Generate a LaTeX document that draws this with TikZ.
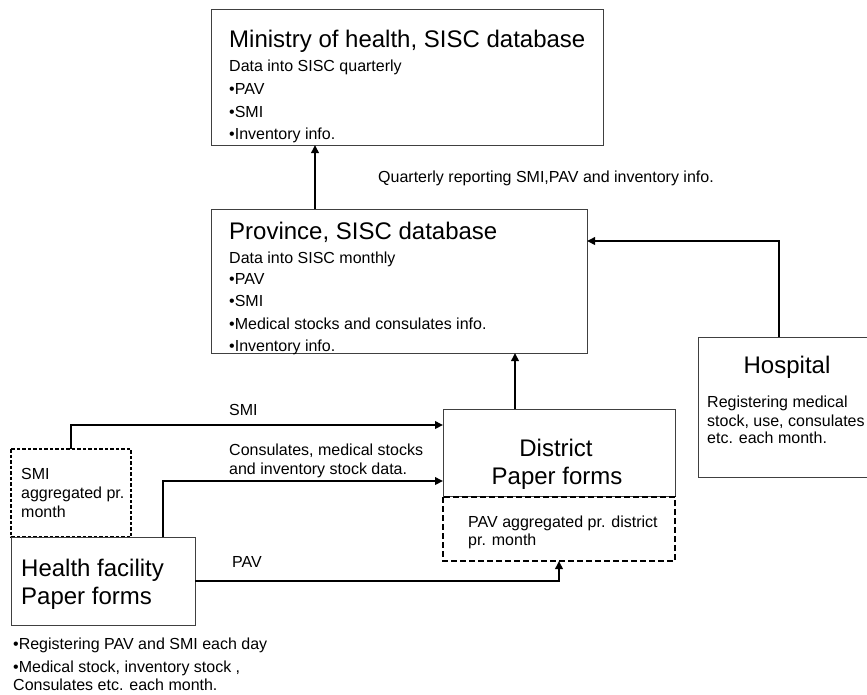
\documentclass[tikz,border=0pt]{standalone}
\usepackage{fontspec}
\setmainfont{Liberation Sans}
\usetikzlibrary{arrows.meta}
\begin{document}
\begin{tikzpicture}[x=1pt,y=-1pt,
  box/.style={draw=black!75,line width=1pt},
  dbox/.style={draw=black,line width=1.5pt,dash pattern=on 6pt off 3pt},
  dboxfine/.style={draw=black,line width=1.4pt,dash pattern=on 3.5pt off 2pt},
  flow/.style={line width=1.9pt,-{Triangle[length=8pt,width=7.5pt]}},
  big/.style={font=\fontsize{24}{28}\selectfont,inner sep=0pt},
  small/.style={font=\fontsize{16}{19}\selectfont,inner sep=0pt},
  lt/.style={anchor=base west},
  ct/.style={anchor=base}]
\useasboundingbox (0,0) rectangle (867,694);
\clip (0,0) rectangle (867,694);

% ---- boxes ----
\draw[box] (211,9) rectangle (603,145);
\coordinate (minB) at (315,145);
\draw[box] (211,209) rectangle (587,353);
\coordinate (proT) at (315,209);
\coordinate (proB) at (515,353);
\coordinate (proR) at (587,241);
\draw[box] (698,337) rectangle (880,477);
\coordinate (hosT) at (779,337);
\draw[box] (443,409) rectangle (675,496);
\coordinate (disT) at (515,409);
\coordinate (disL1) at (443,425);
\coordinate (disL2) at (443,481);
\draw[dbox] (443,497) rectangle (675,561);
\coordinate (pavB) at (559,561);
\draw[dboxfine] (11,449) rectangle (131,537);
\coordinate (smiT) at (71,449);
\draw[box] (11,537) rectangle (195,625);
\coordinate (hfT) at (163,537);
\coordinate (hfR) at (195,581);

% ---- connectors ----
\draw[flow] (proT) -- (minB);
\draw[flow] (hosT) |- (proR);
\draw[flow] (disT) -- (proB);
\draw[flow] (smiT) |- (disL1);
\draw[flow] (hfT) |- (disL2);
\draw[flow] (hfR) -| (pavB);

% ---- ministry text ----
\node[big,lt] (minTitle) at (229,47) {Ministry of health, SISC database};
\node[small,lt] (minL1) at (229,71) {Data into SISC quarterly};
\node[small,lt] (minL2) at (229,94) {•PAV};
\node[small,lt] (minL3) at (229,117) {•SMI};
\node[small,lt] (minL4) at (229,139) {•Inventory info.};

\node[small,lt] (qLabel) at (378,182) {Quarterly reporting SMI,PAV and inventory info.};

% ---- province text ----
\node[big,lt] (proTitle) at (229,239) {Province, SISC database};
\node[small,lt] (proL1) at (229,263) {Data into SISC monthly};
\node[small,lt] (proL2) at (229,284) {•PAV};
\node[small,lt] (proL3) at (229,306) {•SMI};
\node[small,lt] (proL4) at (229,329) {•Medical stocks and consulates info.};
\node[small,lt] (proL5) at (229,351) {•Inventory info.};

% ---- hospital text ----
\node[big,ct] (hosTitle) at (787,373) {Hospital};
\node[small,lt] (hosL1) at (707,407) {Registering medical};
\node[small,lt] (hosL2) at (707,426) {stock, use, consulates};
\node[small,lt] (hosL3) at (707,443) {etc. each month.};

% ---- district text ----
\node[big,ct] (disTitle) at (556,456) {District};
\node[big,ct] (disTitle2) at (557,484) {Paper forms};
\node[small,lt] (disL) at (468,527) {PAV aggregated pr. district};
\node[small,lt] (disL2t) at (468,545) {pr. month};

% ---- health facility text ----
\node[small,lt] (smiA) at (21,479) {SMI};
\node[small,lt] (smiB) at (21,498) {aggregated pr.};
\node[small,lt] (smiC) at (21,517) {month};
\node[big,lt] (hfTitle) at (21,576) {Health facility};
\node[big,lt] (hfTitle2) at (21,604) {Paper forms};

% ---- connector labels ----
\node[small,lt] (lSMI) at (229,415) {SMI};
\node[small,lt] (lCon1) at (229,455) {Consulates, medical stocks};
\node[small,lt] (lCon2) at (229,474) {and inventory stock data.};
\node[small,lt] (lPAV) at (232,567) {PAV};

% ---- notes below ----
\node[small,lt] (n1) at (13,649) {•Registering PAV and SMI each day};
\node[small,lt] (n2) at (13,672) {•Medical stock, inventory stock ,};
\node[small,lt] (n3) at (13,690) {Consulates etc. each month.};
\end{tikzpicture}
\end{document}
